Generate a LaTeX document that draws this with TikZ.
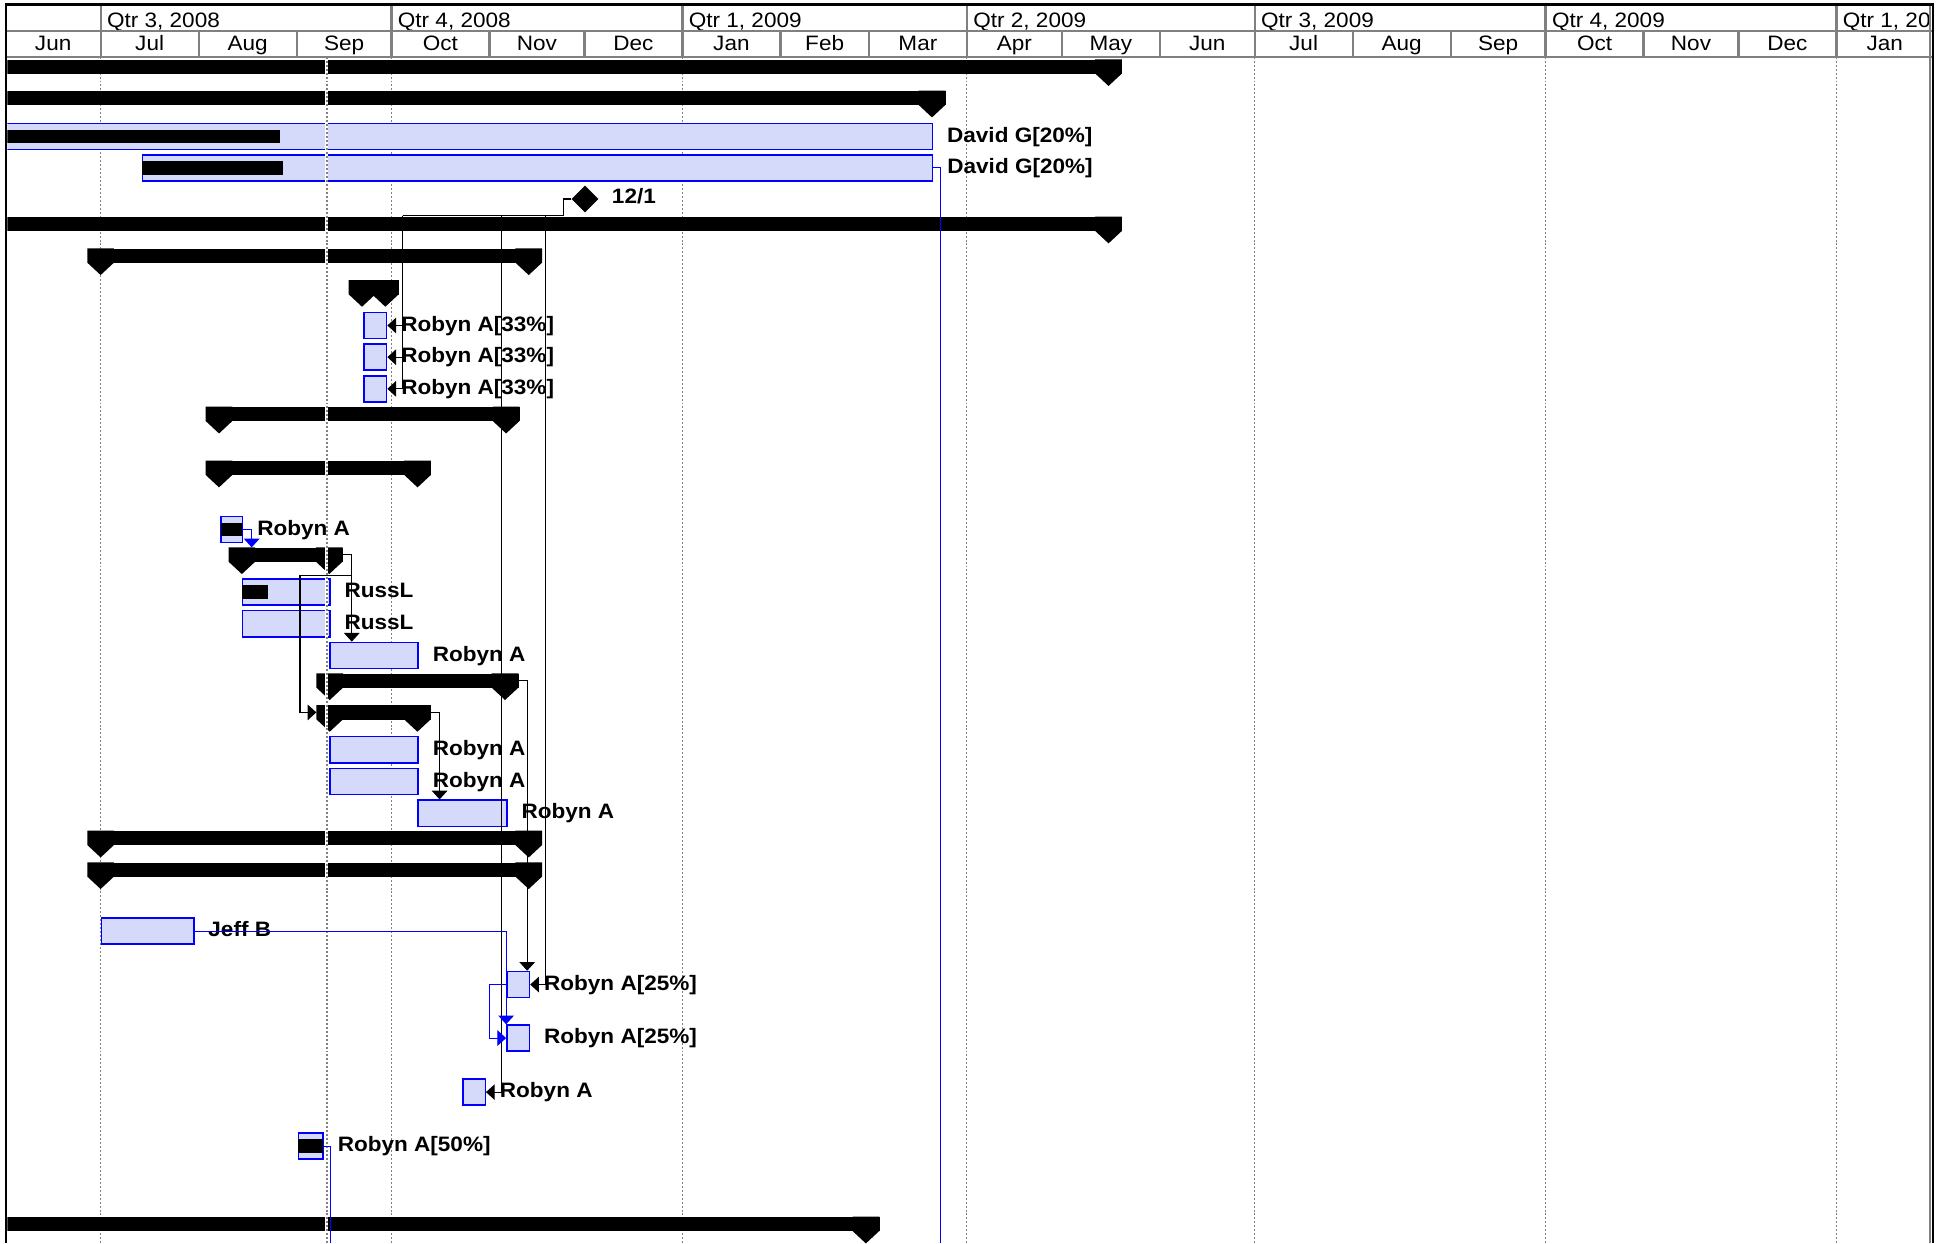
\documentclass[tikz,border=0pt]{standalone}
\usepackage{fontspec}
\setmainfont{Liberation Sans}
\newfontfamily\ganttfont[FakeStretch=1.08]{Liberation Sans}
\usepackage{tikz}
\usepackage{xcolor}
\usetikzlibrary{shapes.geometric, arrows.meta, positioning}
\definecolor{taskfill}{RGB}{214,218,250}
\definecolor{taskblue}{RGB}{0,0,255}
\definecolor{gridgray}{RGB}{128,128,128}
\tikzstyle{task} = [rectangle, draw=taskblue, fill=taskfill, line width=1.2pt, minimum height=21pt, inner sep=0pt, anchor=north west]
\tikzstyle{progress} = [rectangle, fill=black, minimum height=11pt, inner sep=0pt, anchor=west]
\tikzstyle{sumbar} = [rectangle, fill=black, minimum height=11.5pt, inner sep=0pt, anchor=north west]
\tikzstyle{milestone} = [diamond, fill=black, minimum width=21.6pt, minimum height=21.6pt, inner sep=0pt]
\tikzstyle{lbl} = [font=\ganttfont\fontsize{16.8}{18}\selectfont\bfseries, inner sep=0pt, anchor=base west]
\tikzstyle{hdr} = [font=\ganttfont\fontsize{16.8}{18}\selectfont, inner sep=0pt]
\tikzstyle{hdrline} = [gridgray, line width=1.8pt]
\tikzstyle{gridline} = [gridgray, line width=0.8pt, dash pattern=on 1.6pt off 1.6pt]
\tikzstyle{link} = [black, line width=0.9pt, -{Triangle[width=12.5pt,length=7pt]}]
\tikzstyle{blink} = [taskblue, line width=0.9pt, -{Triangle[width=12.5pt,length=7pt]}]
\tikzset{sumtip/.pic={\fill[black] (-10.75,0) -- (10.75,0) -- (10.75,11.5) -- (0,21.5) -- (-10.75,11.5) -- cycle;}}

\begin{document}
\begin{tikzpicture}[x=1pt, y=-1pt]
        \useasboundingbox (0,0) rectangle (1560,1000.6);

        % quarter grid
        \foreach \gx in {81,315.1,549.3,778.3,1009.9,1244.1,1478.2}
            \draw [gridline] (\gx,45.6) -- (\gx,1000.6);

        \begin{scope}
        \clip (6,45.6) rectangle (1555,1000.6);
        % summary bars: name/top/start/finish
        \foreach \n/\y/\a/\b in {s1/47.7/-20/892.3, s2/73/-20/750.2, s6/174.4/-20/892.3, s7/199.9/81/425.6, s8/225.4/291.4/310.2, s12/327.4/176.3/407.4, s13/370.8/176.3/336.1, s14/440.6/194.7/265, s15/542/265.4/406.5, s16/567.5/265.4/336, s17/668.7/81/425.6, s18/694.1/81/425.6, s19/979.4/-20/697}
        {
            \node (\n) [sumbar, minimum width={\b-(\a)+21.5}] at (\a-10.75,\y) {};
            \pic at (\a,\y) {sumtip};
            \pic at (\b,\y) {sumtip};
        }

        \node (dg1) [task, minimum width=762] at (-12,98.8) {};
        \node (dg2) [task, minimum width=636.2] at (114,124) {};
        \node (ms) [milestone] at (470.9,160.2) {};
        \node (ra33a) [task, minimum width=18.1] at (292.5,250.9) {};
        \node (ra33b) [task, minimum width=18.1] at (292.5,276.4) {};
        \node (ra33c) [task, minimum width=18.1] at (292.5,301.9) {};
        \node (ra1) [task, minimum width=17.4] at (177.3,415.1) {};
        \node (rl1) [task, minimum width=70.3] at (194.7,465.5) {};
        \node (rl2) [task, minimum width=70.3] at (194.7,491) {};
        \node (ra2) [task, minimum width=71] at (265,516.5) {};
        \node (ra3) [task, minimum width=71] at (265,592.4) {};
        \node (ra4) [task, minimum width=71] at (265,617.9) {};
        \node (ra5) [task, minimum width=71.4] at (336,643.5) {};
        \node (jb) [task, minimum width=74.4] at (81,738.4) {};
        \node (ra25a) [task, minimum width=18.2] at (407.4,781.4) {};
        \node (ra25b) [task, minimum width=18.2] at (407.4,824.5) {};
        \node (ra6) [task, minimum width=18.1] at (371.9,868) {};
        \node (ra50) [task, minimum width=20] at (239.5,911.5) {};

        \node (dg1p) [progress, minimum width=237.4] at (dg1.west) {};
        \node (dg2p) [progress, minimum width=113.9] at (dg2.west) {};
        \node (ra1p) [progress, minimum width=17.4] at (ra1.west) {};
        \node (rl1p) [progress, minimum width=20.6] at (rl1.west) {};
        \node (ra50p) [progress, minimum width=20] at (ra50.west) {};
        \end{scope}

        % status date
        \draw [white, line width=2.6pt] (263,45.6) -- (263,1000.6);
        \draw [gridline, line width=1.4pt] (263,45.6) -- (263,1000.6);

        \foreach \n/\t in {dg1/David G[20\%], dg2/David G[20\%], ra33a/Robyn A[33\%], ra33b/Robyn A[33\%], ra33c/Robyn A[33\%], ra1/Robyn A, rl1/RussL, rl2/RussL, ra2/Robyn A, ra3/Robyn A, ra4/Robyn A, ra5/Robyn A, jb/Jeff B, ra25a/Robyn A[25\%], ra25b/Robyn A[25\%], ra6/Robyn A, ra50/Robyn A[50\%]}
            \node [lbl] at ([xshift=11pt, yshift=-4.5pt]\n.east) {\t};
        \node [lbl] at ([xshift=10.5pt, yshift=-4pt]ms.east) {12/1};

        \coordinate (mA) at (453.5,173.6);
        \coordinate (mB) at (324,173.6);
        \coordinate (mC) at (403.8,173.6);
        \coordinate (mD) at (439,173.6);
        \coordinate (b1) at ([xshift=6.7pt]ra1.east);
        \coordinate (k1) at ([xshift=7pt]s14.east);
        \coordinate (k2) at (k1 |- 0,463.4);
        \coordinate (k3) at (241.5,463.4);
        \coordinate (k4) at ([xshift=6.7pt]s15.east);
        \coordinate (k5) at ([xshift=6.7pt]s16.east);
        \coordinate (b2) at ([xshift=-13.7pt]ra25a.west);
        \coordinate (b3) at (757.2,1000.6);
        \coordinate (b4) at (266,1000.6);

        \draw [black, line width=0.9pt] (ms.west) -| (mA) -- (mB);
        \draw [link] (mB) |- (ra33a.east);
        \draw [link] (mB) |- (ra33b.east);
        \draw [link] (mB) |- (ra33c.east);
        \draw [link] (mC) |- (ra6.east);
        \draw [link] (mD) |- (ra25a.east);
        \draw [blink] (ra1.east) -| (b1 |- s14.north);
        \draw [link] (s14.east) -| (k1 |- ra2.north);
        \draw [link] (k2) -- (k3) |- (s16.west);
        \draw [link] (s15.east) -| (k4 |- ra25a.north);
        \draw [link] (s16.east) -| (k5 |- ra5.north);
        \draw [blink] (jb.east) -| (ra25b.north west);
        \draw [blink] (ra25a.west) -- (b2) |- (ra25b.west);
        \draw [taskblue, line width=0.9pt] (dg2.east) -| (b3);
        \draw [taskblue, line width=0.9pt] (ra50.east) -| (b4);

        % timescale
        \foreach \xa/\xb/\m in {4.6/81/Jun, 81/159.9/Jul, 159.9/238.8/Aug, 238.8/315.1/Sep, 315.1/394/Oct, 394/470.4/Nov, 470.4/549.3/Dec, 549.3/628.2/Jan, 628.2/699.4/Feb, 699.4/778.3/Mar, 778.3/854.7/Apr, 854.7/933.6/May, 933.6/1009.9/Jun, 1009.9/1088.8/Jul, 1088.8/1167.7/Aug, 1167.7/1244.1/Sep, 1244.1/1323/Oct, 1323/1399.3/Nov, 1399.3/1478.2/Dec, 1478.2/1556/Jan}
        {
            \draw [hdrline] (\xb,25) -- (\xb,45.6);
            \node [hdr, anchor=base] at ({(\xa+\xb)/2},40.5) {\m};
        }
        \foreach \qx/\q in {81/{Qtr 3, 2008}, 315.1/{Qtr 4, 2008}, 549.3/{Qtr 1, 2009}, 778.3/{Qtr 2, 2009}, 1009.9/{Qtr 3, 2009}, 1244.1/{Qtr 4, 2009}, 1478.2/{Qtr 1, 20}}
        {
            \draw [hdrline] (\qx,3.5) -- (\qx,25);
            \node [hdr, anchor=base west] at (\qx+5,22) {\q};
        }
        \draw [hdrline] (5,25) -- (1556,25);
        \draw [hdrline] (5,45.6) -- (1556,45.6);
        \draw [hdrline] (1553.5,3.5) -- (1553.5,1000.6);
        \draw [black, line width=2.2pt] (5,3.5) -- (1556,3.5);
        \draw [black, line width=2pt] (5,2.4) -- (5,1000.6);
        \draw [black, line width=2pt] (1556,2.4) -- (1556,1000.6);

    \end{tikzpicture}
\end{document}
